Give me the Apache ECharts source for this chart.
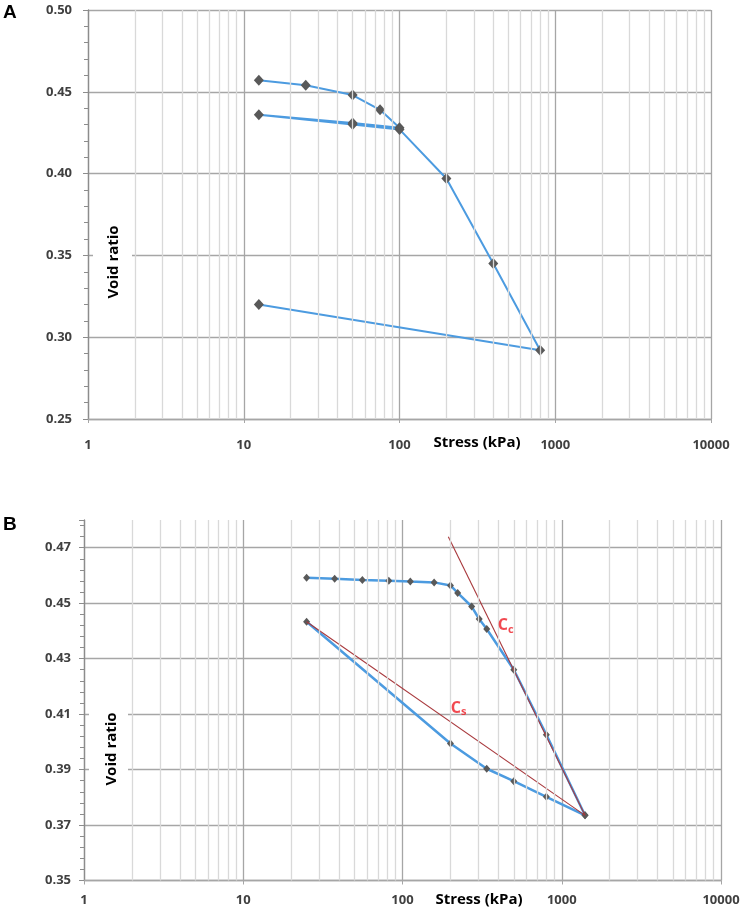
<!DOCTYPE html>
<html>
<head>
<meta charset="utf-8">
<script src="https://cdn.jsdelivr.net/npm/echarts@6/dist/echarts.min.js"></script>
<style>
html,body{margin:0;padding:0;background:#fff;}
#c{width:747px;height:912px;}
</style>
</head>
<body>
<div id="c"></div>
<script>
// ---------- Data ----------
// Panel A: load / unload / reload path
const stressA = [12.5, 25, 50, 75, 100, 50, 12.5, 50, 100, 200, 400, 800, 12.5];
const voidA   = [0.457, 0.454, 0.448, 0.439, 0.428, 0.431, 0.436, 0.430, 0.427, 0.397, 0.345, 0.292, 0.320];

// Panel B: loading branch
const stressBLoad = [25, 37.5, 56, 82, 112, 158, 200, 222, 272, 303, 338, 500, 800, 1400];
const voidBLoad   = [0.4592, 0.4588, 0.4584, 0.4581, 0.4578, 0.4575, 0.4564, 0.4537, 0.4488, 0.4443, 0.4407, 0.426, 0.4026, 0.3735];
// Panel B: unloading branch
const stressBUnload = [1400, 800, 500, 338, 200, 25];
const voidBUnload   = [0.3735, 0.3802, 0.3858, 0.3903, 0.3994, 0.4433];

// Panel B: tangent / secant lines
const ccLineStress = [194, 1400];
const ccLineVoid   = [0.474, 0.3735];
const csLineStress = [25, 1400];
const csLineVoid   = [0.4433, 0.3735];

// Annotation anchors (data coordinates)
const ccLabelAt = [445, 0.4418];
const csLabelAt = [225, 0.4120];

// Axis ticks
const xMajorTicks = [1, 10, 100, 1000, 10000];
const xMinorTicks = [2,3,4,5,6,7,8,9,20,30,40,50,60,70,80,90,200,300,400,500,600,700,800,900,2000,3000,4000,5000,6000,7000,8000,9000];
const yTicksA = [0.25, 0.30, 0.35, 0.40, 0.45, 0.50];
const yTicksB = [0.35, 0.37, 0.39, 0.41, 0.43, 0.45, 0.47];

const zip = (xs, ys) => xs.map((x, i) => [x, ys[i]]);

// ---------- Styles ----------
const GRID_DARK = '#a6a6a6';
const GRID_LIGHT = '#d9d9d9';
const LABEL_COL = '#404040';
const BLUE = '#4c9be0';
const MARK = '#595959';
const RED = '#a8383c';
const FONT = '"Open Sans", "Liberation Sans", sans-serif';

function xAxisCfg(gridIndex, margin) {
  return {
    gridIndex, type: 'log', logBase: 10,
    min: xMajorTicks[0], max: xMajorTicks[xMajorTicks.length - 1],
    axisLine: { show: true, lineStyle: { color: GRID_DARK, width: 1.3 } },
    axisTick: { show: true, length: 4, lineStyle: { color: GRID_DARK } },
    splitLine: { show: true, lineStyle: { color: GRID_DARK, width: 1.3 } },
    axisLabel: { margin, color: LABEL_COL, fontFamily: FONT, fontSize: 13, fontWeight: 'bold',
      formatter: v => String(v) }
  };
}
function yAxisCfg(gridIndex, ticks, margin, hideMax) {
  const step = +(ticks[1] - ticks[0]).toFixed(4);
  return {
    gridIndex, type: 'value',
    min: ticks[0], max: hideMax ? 0.48 : ticks[ticks.length - 1], interval: step,
    axisLine: { show: true, lineStyle: { color: '#8c8c8c', width: 1.3 } },
    axisTick: { show: true, length: 5, lineStyle: { color: '#8c8c8c' } },
    minorTick: { show: true, splitNumber: 5, length: 4, lineStyle: { color: '#8c8c8c' } },
    splitLine: { show: true, showMaxLine: !hideMax, lineStyle: { color: GRID_DARK, width: 1.3 } },
    axisLabel: { margin, color: LABEL_COL, fontFamily: FONT, fontSize: 13, fontWeight: 'bold',
      showMaxLabel: !hideMax, formatter: v => v.toFixed(2) }
  };
}
function minorGridSeries(idx) {
  return {
    type: 'line', xAxisIndex: idx, yAxisIndex: idx, data: [], z: 1, silent: true,
    markLine: {
      silent: true, symbol: ['none', 'none'], animation: false,
      label: { show: false },
      lineStyle: { color: GRID_LIGHT, width: 1.3, type: 'solid' },
      data: xMinorTicks.map(v => ({ xAxis: v }))
    }
  };
}

const chart = echarts.init(document.getElementById('c'), null, { renderer: 'canvas' });
chart.setOption({
  animation: false,
  backgroundColor: '#fff',
  grid: [
    { left: 88, top: 10, width: 623, height: 409 },
    { left: 84, top: 520, width: 637, height: 360.5 }
  ],
  xAxis: [xAxisCfg(0, 20), xAxisCfg(1, 13)],
  yAxis: [yAxisCfg(0, yTicksA, 16, false), yAxisCfg(1, yTicksB, 13, true)],
  series: [
    minorGridSeries(0),
    minorGridSeries(1),
    {
      type: 'line', xAxisIndex: 0, yAxisIndex: 0, data: zip(stressA, voidA),
      lineStyle: { color: BLUE, width: 2 },
      symbol: 'diamond', symbolSize: [10, 11], itemStyle: { color: MARK }, z: 3
    },
    {
      type: 'line', xAxisIndex: 1, yAxisIndex: 1, data: zip(stressBLoad, voidBLoad),
      lineStyle: { color: BLUE, width: 2.5 },
      symbol: 'diamond', symbolSize: [7, 8], itemStyle: { color: MARK }, z: 3
    },
    {
      type: 'line', xAxisIndex: 1, yAxisIndex: 1, data: zip(stressBUnload, voidBUnload),
      lineStyle: { color: BLUE, width: 2.5 },
      symbol: 'diamond', symbolSize: [7, 8], itemStyle: { color: MARK }, z: 3
    },
    {
      type: 'line', xAxisIndex: 1, yAxisIndex: 1, data: zip(ccLineStress, ccLineVoid),
      lineStyle: { color: RED, width: 1.1 }, symbol: 'none', z: 4, silent: true
    },
    {
      type: 'line', xAxisIndex: 1, yAxisIndex: 1, data: zip(csLineStress, csLineVoid),
      lineStyle: { color: RED, width: 1.1 }, symbol: 'none', z: 4, silent: true
    },
    {
      type: 'scatter', xAxisIndex: 1, yAxisIndex: 1, symbolSize: 0, silent: true, z: 5,
      data: [ccLabelAt, csLabelAt],
      label: {
        show: true, position: 'inside',
        formatter: p => p.dataIndex === 0 ? '{a|C}{b|c}' : '{a|C}{b|s}',
        rich: {
          a: { color: '#ee1c24', fontFamily: FONT, fontSize: 16, fontWeight: 'bold' },
          b: { color: '#ee1c24', fontFamily: FONT, fontSize: 11, fontWeight: 'bold', padding: [7, 0, 0, 0] }
        }
      }
    }
  ],
  graphic: [
    { type: 'text', left: 3, top: 3, z: 100,
      style: { text: 'A', font: 'bold 19px "Liberation Sans", Arial, sans-serif', fill: '#000' } },
    { type: 'text', left: 3, top: 515, z: 100,
      style: { text: 'B', font: 'bold 19px "Liberation Sans", Arial, sans-serif', fill: '#000' } },
    { type: 'rect', z: 50, shape: { x: 93, y: 222, width: 39, height: 80 }, style: { fill: '#fff' } },
    { type: 'rect', z: 50, shape: { x: 89, y: 712, width: 39, height: 74 }, style: { fill: '#fff' } },
    { type: 'text', z: 100, x: 114, y: 262, rotation: Math.PI / 2,
      style: { text: 'Void ratio', font: 'bold 15px ' + FONT, fill: '#000', align: 'center', verticalAlign: 'middle' } },
    { type: 'text', z: 100, x: 112, y: 749, rotation: Math.PI / 2,
      style: { text: 'Void ratio', font: 'bold 15px ' + FONT, fill: '#000', align: 'center', verticalAlign: 'middle' } },
    { type: 'text', z: 100, x: 477, y: 443,
      style: { text: 'Stress (kPa)', font: 'bold 15px ' + FONT, fill: '#000', align: 'center', verticalAlign: 'middle' } },
    { type: 'text', z: 100, x: 479, y: 900,
      style: { text: 'Stress (kPa)', font: 'bold 15px ' + FONT, fill: '#000', align: 'center', verticalAlign: 'middle' } }
  ]
});
</script>
</body>
</html>
